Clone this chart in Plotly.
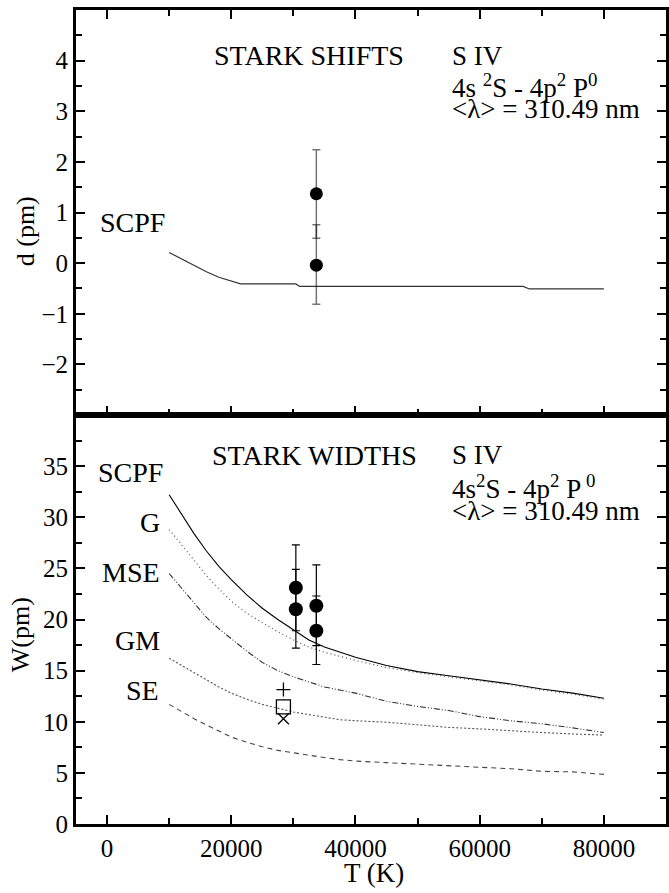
import plotly.graph_objects as go

# ---------------- data ----------------
# Top panel: Stark shifts (SCPF theory)
T_shift = [10000, 12000, 14000, 16000, 18000, 20000, 21500, 30400, 31000, 67000, 68000, 80000]
d_scpf = [0.21, 0.08, -0.05, -0.17, -0.28, -0.35, -0.41, -0.41, -0.46, -0.46, -0.51, -0.51]

# Experimental shifts
T_shift_exp = [33700, 33700]
d_exp = [1.37, -0.04]
d_err_plus = [0.87, 0.80]
d_err_minus = [0.88, 0.77]

# Bottom panel: Stark widths
T_w = [10000, 12000, 14000, 16000, 18000, 20000, 22500, 25000, 27500, 30000, 32500,
       35000, 37500, 40000, 45000, 50000, 55000, 60000, 65000, 70000, 75000, 80000]
W_scpf = [32.2, 30.3, 28.4, 26.7, 25.2, 23.9, 22.4, 21.1, 20.0, 19.0, 18.0,
          17.3, 16.8, 16.3, 15.5, 14.9, 14.5, 14.1, 13.7, 13.2, 12.8, 12.3]
W_g = [28.8, 27.3, 25.8, 24.3, 23.0, 21.8, 20.6, 19.7, 18.8, 18.0, 17.3,
       16.8, 16.4, 16.0, 15.3, 14.8, 14.4, 14.0, 13.6, 13.1, 12.7, 12.2]
W_mse = [24.5, 23.1, 21.6, 20.2, 19.1, 18.1, 16.9, 15.8, 15.0, 14.4, 13.9,
         13.4, 13.1, 12.8, 12.0, 11.5, 11.1, 10.5, 10.1, 9.8, 9.4, 8.95]
W_gm = [16.2, 15.5, 14.8, 14.1, 13.4, 12.8, 12.2, 11.7, 11.35, 10.95, 10.7,
        10.45, 10.2, 10.1, 9.95, 9.7, 9.45, 9.3, 9.1, 8.95, 8.8, 8.7]
W_se = [11.7, 11.0, 10.3, 9.7, 9.1, 8.5, 8.0, 7.55, 7.2, 6.95, 6.7,
        6.5, 6.3, 6.15, 6.0, 5.85, 5.7, 5.5, 5.4, 5.15, 5.1, 4.85]

# Experimental widths (filled circles)
T_w_exp = [30400, 30400, 33700, 33700]
W_exp = [23.1, 21.0, 21.35, 18.9]
W_err_plus = [4.2, 3.9, 4.0, 3.4]
W_err_minus = [4.2, 3.8, 3.9, 3.3]

# Other experiments at ~28400 K
T_other = [28400]
W_plus = [13.15]
W_square = [11.45]
W_cross = [10.3]

curve_names = ["SCPF", "G", "MSE", "GM", "SE"]

# ---------------- layout helpers ----------------
W_PX, H_PX = 669, 893
L, R, T, B = 76, 0, 10, 69
PW, PH = W_PX - L - R, H_PX - T - B
split = (824 - 415) / PH


def px(x):
    return (x - L) / PW


def py(y):
    return (H_PX - B - y) / PH


FONT = "Liberation Serif, Times New Roman, DejaVu Serif, serif"

fig = go.Figure()

# top panel
fig.add_trace(go.Scatter(x=T_shift, y=d_scpf, mode="lines", xaxis="x2", yaxis="y2",
                         line=dict(color="#333", width=1.2), showlegend=False))
fig.add_trace(go.Scatter(x=T_shift_exp, y=d_exp, mode="markers", xaxis="x2", yaxis="y2",
                         marker=dict(color="black", size=13, symbol="circle"),
                         error_y=dict(type="data", array=d_err_plus, arrayminus=d_err_minus,
                                      color="rgba(0,0,0,0.55)", thickness=1.5, width=4),
                         showlegend=False))

# bottom panel curves
styles = [
    dict(color="black", width=1.1, dash="solid"),
    dict(color="#555", width=1.2, dash="1px,3px"),
    dict(color="#333", width=1.1, dash="6px,2px,1px,2px,1px,2px"),
    dict(color="#555", width=1.1, dash="2px,2px"),
    dict(color="#444", width=1.1, dash="5px,4px"),
]
for name, ys, st in zip(curve_names, [W_scpf, W_g, W_mse, W_gm, W_se], styles):
    fig.add_trace(go.Scatter(x=T_w, y=ys, mode="lines", name=name, line=st,
                             xaxis="x", yaxis="y", showlegend=False))

fig.add_trace(go.Scatter(x=T_w_exp, y=W_exp, mode="markers", xaxis="x", yaxis="y",
                         marker=dict(color="black", size=14, symbol="circle"),
                         error_y=dict(type="data", array=W_err_plus, arrayminus=W_err_minus,
                                      color="black", thickness=1.2, width=4),
                         showlegend=False))
fig.add_trace(go.Scatter(x=T_other, y=W_plus, mode="markers", xaxis="x", yaxis="y",
                         marker=dict(symbol="cross-thin-open", size=10, color="black",
                                     line=dict(color="black", width=1.3)),
                         showlegend=False))
fig.add_trace(go.Scatter(x=T_other, y=W_square, mode="markers", xaxis="x", yaxis="y",
                         marker=dict(symbol="square-open", size=14, color="black",
                                     line=dict(color="black", width=1.3)),
                         showlegend=False))
fig.add_trace(go.Scatter(x=T_other, y=W_cross, mode="markers", xaxis="x", yaxis="y",
                         marker=dict(symbol="x-thin-open", size=11, color="black",
                                     line=dict(color="black", width=1.3)),
                         showlegend=False))

tickfont = dict(family=FONT, size=25, color="black")
common_x = dict(range=[-5000, 90000], tickmode="linear", tick0=0, dtick=20000,
                ticks="inside", ticklen=9, tickwidth=2, tickcolor="black",
                showline=True, linewidth=3, linecolor="black", showgrid=False,
                zeroline=False,
                minor=dict(tickmode="linear", tick0=0, dtick=10000, ticks="inside",
                           ticklen=6, tickwidth=2, tickcolor="black"))
common_y = dict(ticks="inside", ticklen=9, tickwidth=2, tickcolor="black",
                showline=True, linewidth=3, linecolor="black", showgrid=False,
                zeroline=False, mirror="ticks", tickfont=tickfont)

fig.update_layout(
    width=W_PX, height=H_PX,
    margin=dict(l=L, r=R, t=T, b=B),
    plot_bgcolor="white", paper_bgcolor="white",
    font=dict(family=FONT, color="black"),
    xaxis=dict(common_x, domain=[0, 1], anchor="y", mirror=True, showticklabels=True,
               tickfont=tickfont, tickformat="d"),
    xaxis2=dict(common_x, domain=[0, 1], anchor="y2", mirror="ticks", showticklabels=False,
                matches="x"),
    yaxis=dict(common_y, domain=[0, split], range=[0, 40], anchor="x",
               tickmode="array", tickvals=[0, 5, 10, 15, 20, 25, 30, 35],
               minor=dict(tickmode="linear", tick0=0, dtick=2.5, ticks="inside",
                          ticklen=6, tickwidth=2, tickcolor="black")),
    yaxis2=dict(common_y, domain=[split, 1], range=[-3, 5], anchor="x2",
                tickmode="array", tickvals=[-2, -1, 0, 1, 2, 3, 4],
                minor=dict(tickmode="linear", tick0=0, dtick=0.5, ticks="inside",
                           ticklen=6, tickwidth=2, tickcolor="black")),
)


def note(text, x, y, xanchor="left", size=27, angle=0):
    fig.add_annotation(text=text, x=px(x), y=py(y), xref="paper", yref="paper",
                       xanchor=xanchor, yanchor="middle", showarrow=False,
                       textangle=angle, font=dict(family=FONT, size=size, color="black"))


# top panel texts
note("STARK SHIFTS", 213, 56, size=28)
note("S IV", 452, 56)
note("4s <sup>2</sup>S - 4p<sup>2</sup> P<sup>0</sup>", 452, 86)
note("&lt;λ&gt; = 310.49 nm", 452, 109)
note("SCPF", 167, 222, xanchor="right", size=28)
note("d (pm)", 25, 231, xanchor="center", size=26, angle=-90)

# bottom panel texts
note("STARK WIDTHS", 211, 455, size=28)
note("S IV", 452, 455)
note("4s<sup>2</sup>S - 4p<sup>2</sup> P<sup> 0</sup>", 452, 487)
note("&lt;λ&gt; = 310.49 nm", 452, 511)
label_y = [472, 522, 572, 640, 690]
label_x = [165, 162, 162, 162, 161]
for name, lx, ly in zip(curve_names, label_x, label_y):
    note(name, lx, ly, xanchor="right", size=28)
note("W(pm)", 20, 635, xanchor="center", size=26, angle=-90)
note("T (K)", 376, 873, xanchor="center", size=27)

fig.write_html("out.html", config={"displayModeBar": False},
               post_script="document.body.style.margin='0';document.body.style.overflow='hidden';")
